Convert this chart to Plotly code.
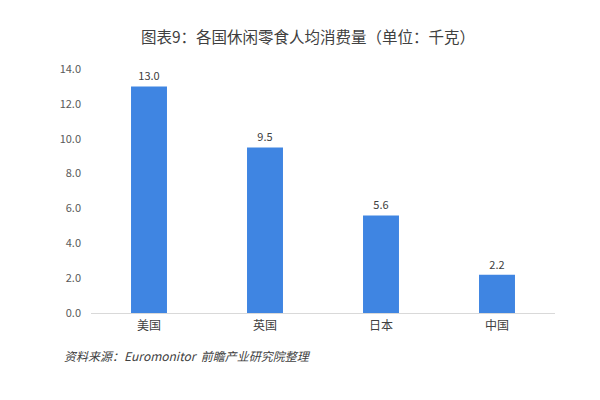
import plotly.graph_objects as go

categories = ["美国", "英国", "日本", "中国"]
values = [13.0, 9.5, 5.6, 2.2]
tick_vals = [0, 2, 4, 6, 8, 10, 12, 14]
tick_text = ["0.0", "2.0", "4.0", "6.0", "8.0", "10.0", "12.0", "14.0"]

font_family = "Noto Sans CJK SC, Microsoft YaHei, sans-serif"

fig = go.Figure(go.Bar(
    x=categories, y=values,
    marker=dict(color="#3f85e2", line=dict(width=0)),
    text=[f"{v:.1f}" for v in values],
    textposition="outside",
    textfont=dict(size=11, color="#404040", family=font_family),
    cliponaxis=False,
    width=0.31,
))

fig.update_layout(
    width=600, height=400,
    paper_bgcolor="white", plot_bgcolor="white",
    margin=dict(l=83, r=53, t=61, b=95),
    title=dict(text="图表9：各国休闲零食人均消费量（单位：千克）",
               x=0.5, xanchor="center", y=0.925, yanchor="middle",
               font=dict(size=15.5, color="#404040", family=font_family)),
    showlegend=False,
    font=dict(family=font_family),
)
fig.update_yaxes(range=[0, 14], tickvals=tick_vals, ticktext=tick_text,
                 showgrid=False, zeroline=False, showline=False,
                 tickfont=dict(size=11, color="#595959"), ticks="", ticklabelstandoff=9)
fig.update_xaxes(showline=True, linecolor="#d9d9d9", linewidth=1,
                 tickfont=dict(size=12, color="#404040"), ticks="", ticklabelstandoff=2)

fig.add_annotation(text="<i>资料来源：Euromonitor  前瞻产业研究院整理</i>",
                   xref="paper", yref="paper", x=-0.0625, y=-0.176,
                   xanchor="left", yanchor="middle", showarrow=False,
                   font=dict(size=12, color="#404040", family=font_family))

fig.write_html("out.html")
